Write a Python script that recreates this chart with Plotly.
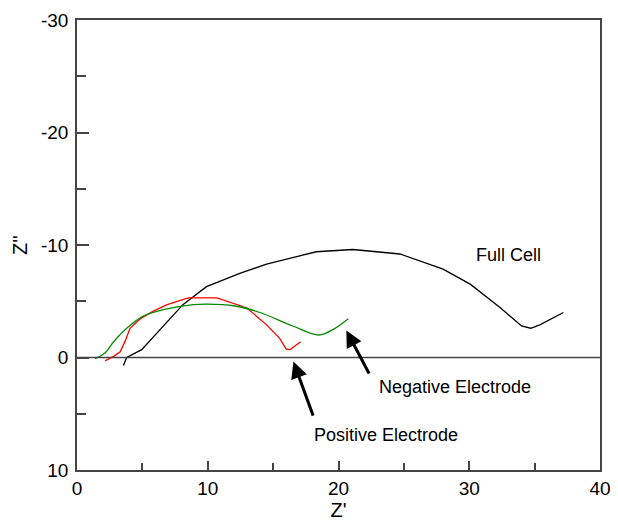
import plotly.graph_objects as go

# Full cell
full_x = [3.55, 3.8, 4.95, 6.35, 8.1, 9.9, 12.5, 14.5, 17.1, 18.3, 21.1, 24.7, 28.0, 30.1, 32.4, 34.0, 34.7, 35.4, 37.2]
full_y = [0.7, 0.0, -0.7, -2.5, -4.7, -6.3, -7.5, -8.3, -9.1, -9.4, -9.6, -9.2, -7.85, -6.5, -4.4, -2.8, -2.6, -2.9, -4.0]

# Positive electrode
pos_x = [2.14, 2.8, 3.3, 3.7, 4.05, 4.8, 5.8, 6.9, 8.5, 10.7, 13.0, 14.5, 15.5, 16.0, 16.3, 17.1]
pos_y = [0.3, -0.1, -0.5, -1.5, -2.6, -3.4, -4.1, -4.7, -5.3, -5.3, -4.4, -2.9, -1.7, -0.75, -0.7, -1.4]

# Negative electrode
neg_x = [1.38, 2.14, 2.8, 3.8, 5.1, 6.6, 8.9, 9.9, 12.0, 14.0, 16.5, 18.5, 19.6, 20.75]
neg_y = [0.1, -0.4, -1.4, -2.6, -3.7, -4.25, -4.7, -4.75, -4.6, -4.0, -2.8, -2.0, -2.5, -3.45]

x_ticks = [0, 10, 20, 30, 40]
x_ticktext = ["0", "10", "20", "30", "40"]
y_ticks = [-30, -20, -10, 0, 10]
y_ticktext = ["-30", "-20", "-10", "0", "10"]

FONT = "Liberation Sans, Arial, sans-serif"
AX = "#444444"

fig = go.Figure()
fig.add_trace(go.Scatter(x=full_x, y=full_y, mode="lines", line=dict(color="black", width=1.3)))
fig.add_trace(go.Scatter(x=pos_x, y=pos_y, mode="lines", line=dict(color="#ff0000", width=1.3)))
fig.add_trace(go.Scatter(x=neg_x, y=neg_y, mode="lines", line=dict(color="#008a00", width=1.3, shape="spline")))

fig.add_shape(type="line", xref="paper", x0=0, x1=1, yref="y", y0=0, y1=0,
              line=dict(color=AX, width=1.5))

fig.add_annotation(x=33.0, y=-9.1, text="Full Cell", showarrow=False,
                   font=dict(size=18, color="black", family=FONT))
fig.add_annotation(x=28.9, y=2.6, text="Negative Electrode", showarrow=False,
                   font=dict(size=18, color="black", family=FONT))
fig.add_annotation(x=23.6, y=6.9, text="Positive Electrode", showarrow=False,
                   font=dict(size=18, color="black", family=FONT))

# arrows
fig.add_annotation(x=20.6, y=-2.4, ax=22.4, ay=1.55, axref="x", ayref="y", xref="x", yref="y",
                   text="", showarrow=True, arrowhead=2, arrowsize=1.1, arrowwidth=3, arrowcolor="black")
fig.add_annotation(x=16.55, y=0.36, ax=18.1, ay=5.3, axref="x", ayref="y", xref="x", yref="y",
                   text="", showarrow=True, arrowhead=2, arrowsize=1.1, arrowwidth=3, arrowcolor="black")

# page body has an 8px margin; size the figure so the plot area lands where the reference has it
fig.update_layout(
    width=610, height=513,
    margin=dict(l=69, r=18, t=12, b=51),
    paper_bgcolor="white", plot_bgcolor="white",
    showlegend=False,
    font=dict(family=FONT, size=19, color="black"),
)
fig.update_xaxes(
    range=[0, 40], tickvals=x_ticks, ticktext=x_ticktext, automargin=False,
    ticks="inside", ticklen=9, tickwidth=1.5, tickcolor=AX,
    showline=True, linecolor=AX, linewidth=1.5, mirror=True, showgrid=False, zeroline=False,
    minor=dict(ticks="inside", dtick=5, tick0=0, ticklen=7, tickcolor=AX, tickwidth=1.5, showgrid=False),
    title=dict(text="Z'", font=dict(size=20), standoff=2),
)
fig.update_yaxes(
    range=[10, -30], tickvals=y_ticks, ticktext=y_ticktext, automargin=False,
    ticks="inside", ticklen=12, tickwidth=1.5, tickcolor=AX, ticklabelstandoff=3,
    showline=True, linecolor=AX, linewidth=1.5, mirror=True, showgrid=False, zeroline=False,
    minor=dict(ticks="inside", dtick=5, tick0=0, ticklen=9, tickcolor=AX, tickwidth=1.5, showgrid=False),
    title=dict(text="Z''", font=dict(size=20), standoff=8),
)

fig.write_html("out.html")
